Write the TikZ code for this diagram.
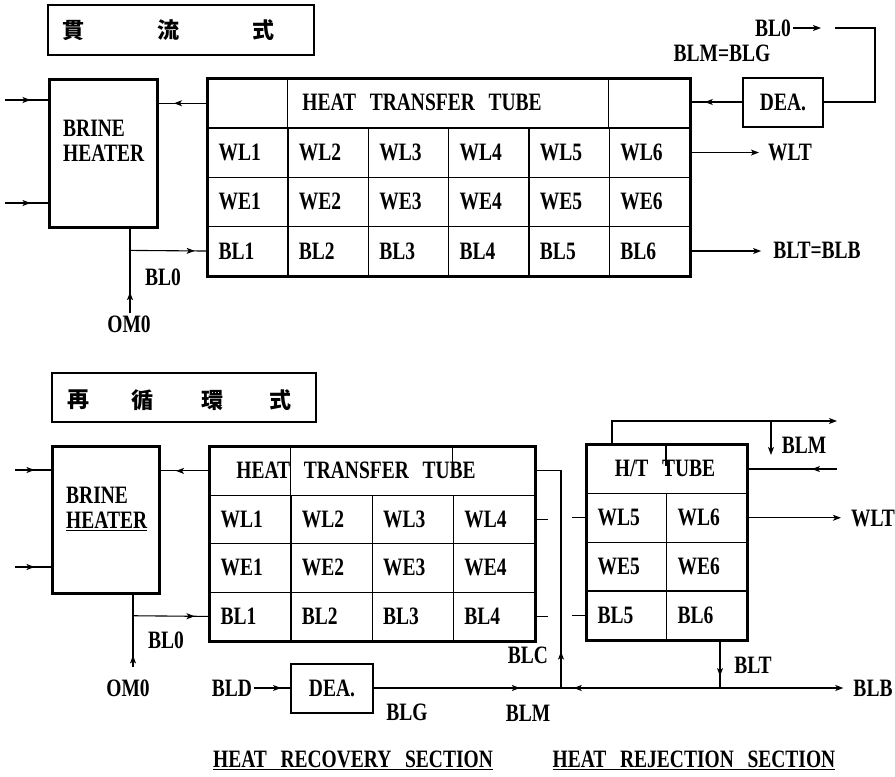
\documentclass[tikz,border=0pt]{standalone}
\usepackage{fontspec}
\setmainfont{Liberation Serif}[FakeStretch=0.78,WordSpace=2.8]
\newfontfamily\cjk{Noto Sans CJK JP}
\usetikzlibrary{arrows.meta,decorations.markings}
\begin{document}
\begin{tikzpicture}[x=1pt,y=-1pt,
  font=\bfseries\fontsize{25}{25}\selectfont,
  every node/.style={inner sep=2pt},
  conn/.style={line width=1.1pt},
  tip/.style={-{Stealth[length=8pt,width=6pt,inset=2pt]}},
  arrowat/.style={postaction={decorate,decoration={markings,mark=at position #1 with {\arrow{Stealth[length=8pt,width=6pt,inset=2pt]}}}}},
  thinbox/.style={draw,line width=1.2pt},
  heavybox/.style={draw,line width=3pt},
  deabox/.style={draw,line width=2pt},
  cjkchar/.style={font=\cjk\bfseries\fontsize{22}{22}\selectfont},
  grid/.style={line width=1.3pt},
  cellA/.style={draw,grid,anchor=north west,minimum height=49.25pt,text width=58.33pt,inner xsep=11pt,align=left},
  cellB/.style={draw,grid,anchor=north west,minimum height=48.5pt,text width=59.25pt,inner xsep=11pt,align=left},
  cellC/.style={draw,grid,anchor=north west,minimum height=48.75pt,text width=58pt,inner xsep=11pt,align=left}
]
\useasboundingbox (0,0) rectangle (895,777);

% ================= TOP: once-through =================
\node[thinbox,minimum width=266pt,minimum height=50pt] (t1) at (181,30) {};
\node[cjkchar] (t1a) at (73,30) {貫};
\node[cjkchar] (t1b) at (168,30) {流};
\node[cjkchar] (t1c) at (263,30) {式};

\node[heavybox,minimum width=108pt,minimum height=148pt] (bh1) at (103,153) {};
\node[align=left,anchor=west] (bh1t) at (61,141) {BRINE\\HEATER};

\coordinate (i1) at (5,100);
\coordinate (i2) at (5,203);
\draw[conn,arrowat=0.6] (i1) -- (i1 -| bh1.west);
\draw[conn,arrowat=0.6] (i2) -- (i2 -| bh1.west);

% table A
\node[draw,grid,anchor=north west,minimum width=482pt,minimum height=49.25pt] (AH) at (207,78) {};
\foreach \lab [count=\i] in {WL,WE,BL}{
  \foreach \j in {1,...,6}{
    \node[cellA] (A\lab\j) at ({207+(\j-1)*80.333},{127.25+(\i-1)*49.25}) {\lab\j};
  }
}
\node (AHt) at (422,102) {HEAT TRANSFER TUBE};
\draw[grid] (AWL2.north west) -- (AWL2.north west |- AH.north);
\draw[grid] (AWL6.north west) -- (AWL6.north west |- AH.north);
\draw[line width=3pt] (AH.north west) rectangle (ABL6.south east);

\draw[conn,arrowat=0.68] (AH.west) -- (AH.west -| bh1.east);

\node[deabox,minimum width=80pt,minimum height=49pt] (dea1) at (783,102) {DEA.};
\draw[conn,arrowat=0.72] (dea1.west) -- (dea1.west -| AH.east);
\coordinate (r1) at (875,28);
\coordinate (r2) at (835,28);
\draw[conn] (dea1.east) -| (r1) -- (r2);
\node (blo1) at (773,28) {BL0};
\coordinate (blo1e) at (821,28);
\draw[conn,tip] (blo1.east) -- (blo1e);
\node (blmblg) at (722,53) {BLM=BLG};

\node (wlt1) at (790,152) {WLT};
\draw[conn,tip,shorten >=7pt] (AWL6.east) -- (AWL6.east -| wlt1.west);
\node (blt1) at (817,250) {BLT=BLB};
\draw[conn,tip,shorten >=10pt] (ABL6.east) -- (ABL6.east -| blt1.west);

\node (omo1) at (129,324) {OM0};
\coordinate (j1) at (130,250.4);
\draw[conn,arrowat=0.25] (omo1.north -| j1) -- (j1 |- bh1.south);
\draw[conn,arrowat=0.84] (j1) -- (ABL1.west);
\node (bl01) at (163,277) {BL0};

% ================= BOTTOM: recirculation =================
\node[thinbox,minimum width=264pt,minimum height=49pt] (t2) at (184,397.5) {};
\node[cjkchar] (t2a) at (78,400) {再};
\node[cjkchar] (t2b) at (142,400) {循};
\node[cjkchar] (t2c) at (212,400) {環};
\node[cjkchar] (t2d) at (280,400) {式};

\node[heavybox,minimum width=107pt,minimum height=147pt] (bh2) at (105.5,519.5) {};
\node[align=left,anchor=west] (bh2t) at (64,509) {BRINE\\\underline{HEATER}};

\coordinate (i3) at (15,470);
\coordinate (i4) at (15,567);
\draw[conn,arrowat=0.55] (i3) -- (i3 -| bh2.west);
\draw[conn,arrowat=0.55] (i4) -- (i4 -| bh2.west);

% table B (heat recovery)
\node[draw,grid,anchor=north west,minimum width=325pt,minimum height=48.5pt] (BH) at (209,446) {};
\foreach \lab [count=\i] in {WL,WE,BL}{
  \foreach \j in {1,...,4}{
    \node[cellB] (B\lab\j) at ({209+(\j-1)*81.25},{494.5+(\i-1)*48.5}) {\lab\j};
  }
}
\node (BHt) at (356,470) {HEAT TRANSFER TUBE};
\draw[grid] (BWL2.north west) -- (BWL2.north west |- BH.north);
\draw[grid] (BWL4.north west |- BH.north) -- ++(0,20);
\draw[line width=3pt] (BH.north west) rectangle (BBL4.south east);

\draw[conn,arrowat=0.68] (BH.west) -- (BH.west -| bh2.east);

% table C (heat rejection)
\node[draw,grid,anchor=north west,minimum width=160pt,minimum height=48.75pt] (CH) at (586,444) {};
\foreach \lab [count=\i] in {WL,WE,BL}{
  \foreach \j [evaluate=\j as \k using int(\j+4)] in {1,2}{
    \node[cellC] (C\lab\k) at ({586+(\j-1)*80},{492.75+(\i-1)*48.75}) {\lab\k};
  }
}
\node (CHt) at (665,468) {H/T TUBE};
\draw[grid] (CWL6.north west |- CH.north) -- ++(0,22);
\draw[line width=3pt] (CH.north west) rectangle (CBL6.south east);

% stubs between sections
\draw[conn] (BWL4.east) -- ++(13,0);
\draw[conn] (BBL4.east) -- ++(13,0);
\draw[conn] (CWL5.west) -- ++(-14,0);
\draw[conn] (CBL5.west) -- ++(-14,0);

% recirculation loop
\coordinate (mx) at (561,688);
\draw[conn,arrowat=0.15] (mx) |- (BH.east);
\node (blc) at (528,655) {BLC};

\coordinate (top1) at (612,421);
\coordinate (top2) at (837,421);
\draw[conn,tip] (top1 |- CH.north) -- (top1) -- (top2);
\coordinate (bd1) at (771,421);
\coordinate (bd2) at (771,455);
\draw[conn,tip] (bd1) -- (bd2);
\node (blm2) at (804,445) {BLM};
\coordinate (in3) at (837,468);
\draw[conn,arrowat=0.28] (CH.east -| in3) -- (CH.east);

\node (wlt2) at (873,518) {WLT};
\draw[conn,tip,shorten >=8pt] (CWL6.east) -- (CWL6.east -| wlt2.west);

\coordinate (bj) at (720,688);
\draw[conn,arrowat=0.75] (bj |- CBL6.south) -- (bj);
\node (blt2) at (753,665) {BLT};
\node (blb2) at (873,688) {BLB};
\draw[conn,tip,shorten >=8pt] (bj) -- (bj -| blb2.west);
\draw[conn,arrowat=0.92] (bj) -- (mx);

\node (bld) at (232,688) {BLD};
\node[deabox,minimum width=82pt,minimum height=49pt] (dea2) at (332,688) {DEA.};
\draw[conn,arrowat=0.75] (bld.east) -- (dea2.west);
\draw[conn,arrowat=0.78] (dea2.east) -- (mx);
\node (blg2) at (407,712) {BLG};
\node (blm3) at (528,713) {BLM};

\node (omo2) at (128,688) {OM0};
\coordinate (o2) at (133,667);
\coordinate (j2) at (133,615.75);
\draw[conn,arrowat=0.16] (o2) -- (o2 |- bh2.south);
\draw[conn,arrowat=0.81] (j2) -- (BBL1.west);
\node (bl02) at (166,640) {BL0};

\node (hrs) at (353,760) {\underline{HEAT RECOVERY SECTION}};
\node (hjs) at (694,760) {\underline{HEAT REJECTION SECTION}};
\end{tikzpicture}
\end{document}
